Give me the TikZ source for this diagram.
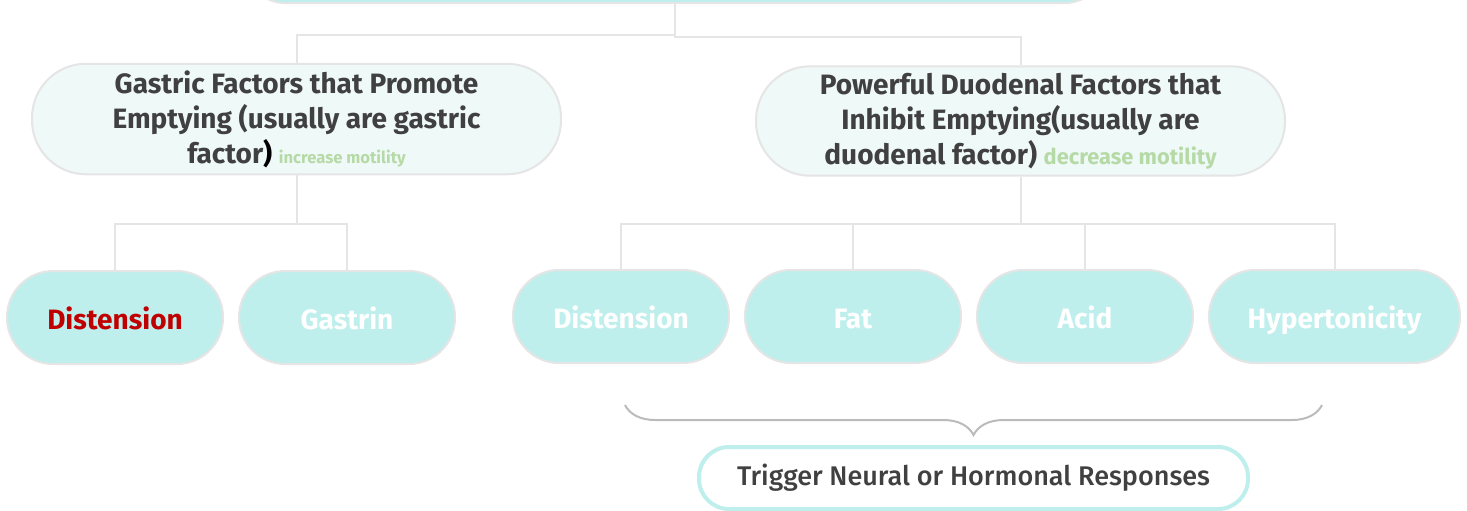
\documentclass[tikz,border=0pt]{standalone}
\usepackage{fontspec}
\setmainfont{Fira Sans}
\newfontfamily\mediumfont{Fira Sans Medium}
\usetikzlibrary{positioning,decorations.pathreplacing}

\definecolor{topiccolor}{RGB}{190,239,236}
\definecolor{groupcolor}{RGB}{239,249,248}
\definecolor{edgecolor}{RGB}{229,229,229}
\definecolor{textcolor}{RGB}{64,64,64}
\definecolor{notecolor}{RGB}{182,218,166}
\definecolor{alertcolor}{RGB}{192,0,0}
\definecolor{bracecolor}{RGB}{187,187,187}

\begin{document}
\begin{tikzpicture}[x=0.5pt, y=-0.5pt, node distance=7pt,
  pill/.style = {draw=edgecolor, line width=1pt, fill=topiccolor, rounded corners=23pt, minimum width=108pt, minimum height=46.5pt, text height=11.8pt, text depth=0pt, text=white, font=\bfseries\fontsize{14}{16}\selectfont},
  group/.style = {draw=edgecolor, line width=1pt, fill=groupcolor, rounded corners=27pt, minimum width=264.5pt, minimum height=54pt, text=textcolor, align=center, font=\bfseries\fontsize{14}{17.5}\selectfont},
  trigger/.style = {draw=topiccolor, line width=2pt, fill=white, rounded corners=15pt, minimum width=274.5pt, minimum height=31pt, text=textcolor, font=\mediumfont\fontsize{13.5}{15}\selectfont},
  link/.style = {draw=edgecolor, line width=1pt},
  brace/.style = {decorate, decoration={brace, mirror, amplitude=15pt}, draw=bracecolor, line width=1pt}]
	\useasboundingbox (0,0) rectangle (1467,510);
	\clip (0,0) rectangle (1467,510);

	\node[pill, minimum width=430pt, minimum height=40pt, rounded corners=20pt] (root) at (675,-37) {};

	\node[group] (gastric) at (296.5,119) {Gastric Factors that Promote\\Emptying (usually are gastric\\factor{\color{black})} {\fontsize{8.3}{10}\selectfont\color{notecolor}increase motility}};
	\node[group] (duodenal) at (1020.5,121) {Powerful Duodenal Factors that\\Inhibit Emptying(usually are\\duodenal factor) {\fontsize{10.9}{12}\selectfont\color{notecolor}decrease motility}};

	\node[pill, text=alertcolor] (distA) at (115,317.5) {Distension};
	\node[pill, right=of distA] (gastrin) {Gastrin};

	\node[pill] (distB) at (621,316.5) {Distension};
	\node[pill, right=of distB] (fat) {Fat};
	\node[pill, right=of fat] (acid) {Acid};
	\node[pill, right=of acid, minimum width=125.5pt] (hyper) {Hypertonicity};

	\node[trigger] (trigger) at (973.5,478) {Trigger Neural or Hormonal Responses};

	\draw[link] (root.south) -- ++(0,31) -| (gastric.north);
	\draw[link] (root.south) -- ++(0,33) -| (duodenal.north);

	\draw[link] (gastric.south) -- ++(0,49) -| (distA.north);
	\draw[link] (gastric.south) -- ++(0,49) -| (gastrin.north);

	\draw[link] (duodenal.south) -- ++(0,47) -| (distB.north);
	\draw[link] (duodenal.south) -- ++(0,47) -| (fat.north);
	\draw[link] (duodenal.south) -- ++(0,47) -| (acid.north);
	\draw[link] (duodenal.south) -- ++(0,47) -| (hyper.north);

	% brace under the four duodenal factors
	\coordinate (braceL) at (625,405);
	\coordinate (braceR) at (1322,405);
	\draw[brace] (braceL) -- (braceR);
\end{tikzpicture}
\end{document}
